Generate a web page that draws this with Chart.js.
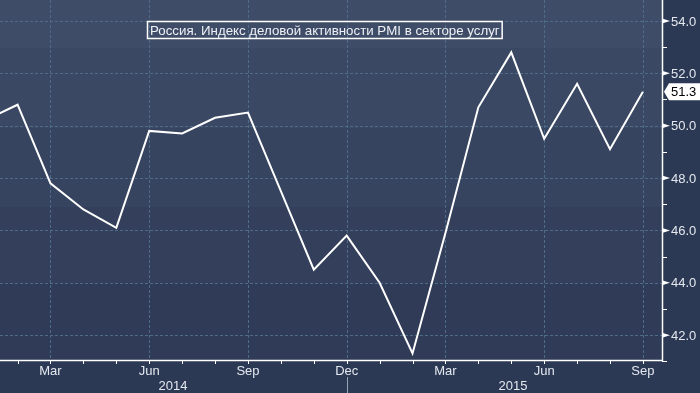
<!DOCTYPE html>
<html>
<head>
<meta charset="utf-8">
<script src="https://cdn.jsdelivr.net/npm/chart.js@4"></script>
<style>
html,body{margin:0;padding:0;background:#2c3955;}
canvas{display:block;}
</style>
</head>
<body>
<canvas id="c" width="700" height="393"></canvas>
<script>
// Month index: 0 = Jan 2014 ... 20 = Sep 2015
const monthIndex = [0,1,2,3,4,5,6,7,8,9,10,11,12,13,14,15,16,17,18,19,20];
const pmiValues = [50.2,50.8,47.8,46.8,46.1,49.8,49.7,50.3,50.5,47.5,44.5,45.8,44.0,41.3,45.9,50.7,52.8,49.5,51.6,49.1,51.3];
const yTicks = [42,44,46,48,50,52,54];
const yMinorTicks = [41,43,45,47,49,51,53];
const xQuarterTicks = [2,5,8,11,14,17,20];
const xQuarterLabels = ['Mar','Jun','Sep','Dec','Mar','Jun','Sep'];
const yearLabels = ['2014','2015'];
const yearLabelPos = [5.72,16.05];
const yearSeparator = [11];
const titleText = 'Россия. Индекс деловой активности PMI в секторе услуг';
const lastValue = pmiValues[pmiValues.length-1];

const FONT = '13px "Liberation Sans", Arial, sans-serif';
const TITLE_FONT = '13.3px "Liberation Sans", Arial, sans-serif';

const bgPlugin = {
  id:'bg',
  beforeDraw(chart){
    const ctx = chart.ctx, a = chart.chartArea;
    ctx.save();
    ctx.fillStyle = '#2c3955';
    ctx.fillRect(0,0,chart.width,chart.height);
    const bands = [[0,48,'#3f4c68'],[48,128,'#3b4864'],[128,207,'#37445f'],[207,283,'#333f5b'],[283,360,'#2f3b57']];
    bands.forEach(b=>{ctx.fillStyle=b[2];ctx.fillRect(a.left,b[0],a.right-a.left,b[1]-b[0]);});
    // grid
    const xs = chart.scales.x, ys = chart.scales.y;
    ctx.strokeStyle = '#4e6b87';
    ctx.lineWidth = 1;
    ctx.setLineDash([3,2]);
    yTicks.forEach(v=>{
      const y = Math.round(ys.getPixelForValue(v))+0.5;
      ctx.beginPath();ctx.moveTo(a.left,y);ctx.lineTo(a.right,y);ctx.stroke();
    });
    xQuarterTicks.forEach(v=>{
      const x = Math.round(xs.getPixelForValue(v))+0.5;
      ctx.beginPath();ctx.moveTo(x,a.top);ctx.lineTo(x,a.bottom);ctx.stroke();
    });
    ctx.setLineDash([]);
    ctx.restore();
  },
  afterDraw(chart){
    const ctx = chart.ctx, a = chart.chartArea;
    const xs = chart.scales.x, ys = chart.scales.y;
    ctx.save();
    // axes lines
    ctx.strokeStyle = '#ffffff';
    ctx.lineWidth = 1.5;
    ctx.beginPath();
    ctx.moveTo(a.right+0.5,0);ctx.lineTo(a.right+0.5,a.bottom+1);
    ctx.moveTo(0,a.bottom+0.5);ctx.lineTo(a.right+1,a.bottom+0.5);
    ctx.stroke();
    // x month ticks
    ctx.lineWidth = 1;
    for(let m=Math.ceil(xs.min); m<=Math.floor(xs.max); m++){
      const x = Math.round(xs.getPixelForValue(m))+0.5;
      ctx.beginPath();ctx.moveTo(x,a.bottom);ctx.lineTo(x,a.bottom+4);ctx.stroke();
    }
    // x labels
    ctx.font = FONT;
    ctx.fillStyle = '#e4e8ee';
    ctx.textAlign = 'center';
    ctx.textBaseline = 'middle';
    xQuarterTicks.forEach((v,i)=>{
      ctx.fillText(xQuarterLabels[i], xs.getPixelForValue(v), a.bottom+11);
    });
    yearLabels.forEach((t,i)=>{
      ctx.fillText(t, xs.getPixelForValue(yearLabelPos[i]), a.bottom+26);
    });
    ctx.strokeStyle = '#9aa3b3';
    yearSeparator.forEach(v=>{
      const x = Math.round(xs.getPixelForValue(v))+0.5;
      ctx.beginPath();ctx.moveTo(x,a.bottom+17);ctx.lineTo(x,chart.height);ctx.stroke();
    });
    // y minor ticks
    ctx.strokeStyle = '#ffffff';
    yMinorTicks.forEach(v=>{
      const y = Math.round(ys.getPixelForValue(v))+0.5;
      ctx.beginPath();ctx.moveTo(a.right,y);ctx.lineTo(a.right+5,y);ctx.stroke();
    });
    // y major ticks (arrows) and labels
    ctx.textAlign = 'left';
    yTicks.forEach(v=>{
      const y = ys.getPixelForValue(v);
      ctx.fillStyle = '#ffffff';
      ctx.beginPath();
      ctx.moveTo(a.right,y-2.5);ctx.lineTo(a.right+8,y);ctx.lineTo(a.right,y+2.5);ctx.closePath();ctx.fill();
      ctx.fillStyle = '#e4e8ee';
      ctx.fillText(v.toFixed(1), a.right+9, y+1);
    });
    // last value tag
    const ly = ys.getPixelForValue(lastValue);
    ctx.fillStyle = '#ffffff';
    ctx.beginPath();
    ctx.moveTo(a.right+2,ly);
    ctx.lineTo(a.right+7,ly-8.5);
    ctx.lineTo(chart.width,ly-8.5);
    ctx.lineTo(chart.width,ly+8.5);
    ctx.lineTo(a.right+7,ly+8.5);
    ctx.closePath();ctx.fill();
    ctx.fillStyle = '#000000';
    ctx.fillText(lastValue.toFixed(1), a.right+9, ly+1);
    // title box
    ctx.font = TITLE_FONT;
    const tw = ctx.measureText(titleText).width;
    const bx = 147.5, by = 21.5, bh = 17;
    ctx.strokeStyle = '#ffffff';
    ctx.lineWidth = 1.5;
    ctx.strokeRect(bx, by, tw+5, bh);
    ctx.fillStyle = '#eef1f5';
    ctx.fillText(titleText, bx+2.5, by+bh/2+1);
    ctx.restore();
  }
};

new Chart(document.getElementById('c'), {
  type:'line',
  data:{
    datasets:[{
      data: monthIndex.map((m,i)=>({x:m,y:pmiValues[i]})),
      borderColor:'#ffffff',
      borderWidth:2,
      pointRadius:0,
      tension:0,
      fill:false,
      clip:0
    }]
  },
  options:{
    responsive:false,
    animation:false,
    events:[],
    layout:{padding:{left:0,right:38,top:0,bottom:33}},
    plugins:{legend:{display:false},tooltip:{enabled:false}},
    scales:{
      x:{type:'linear',min:0.466,max:20.58,display:false},
      y:{type:'linear',min:41.05,max:54.8,display:false}
    }
  },
  plugins:[bgPlugin]
});
</script>
</body>
</html>
